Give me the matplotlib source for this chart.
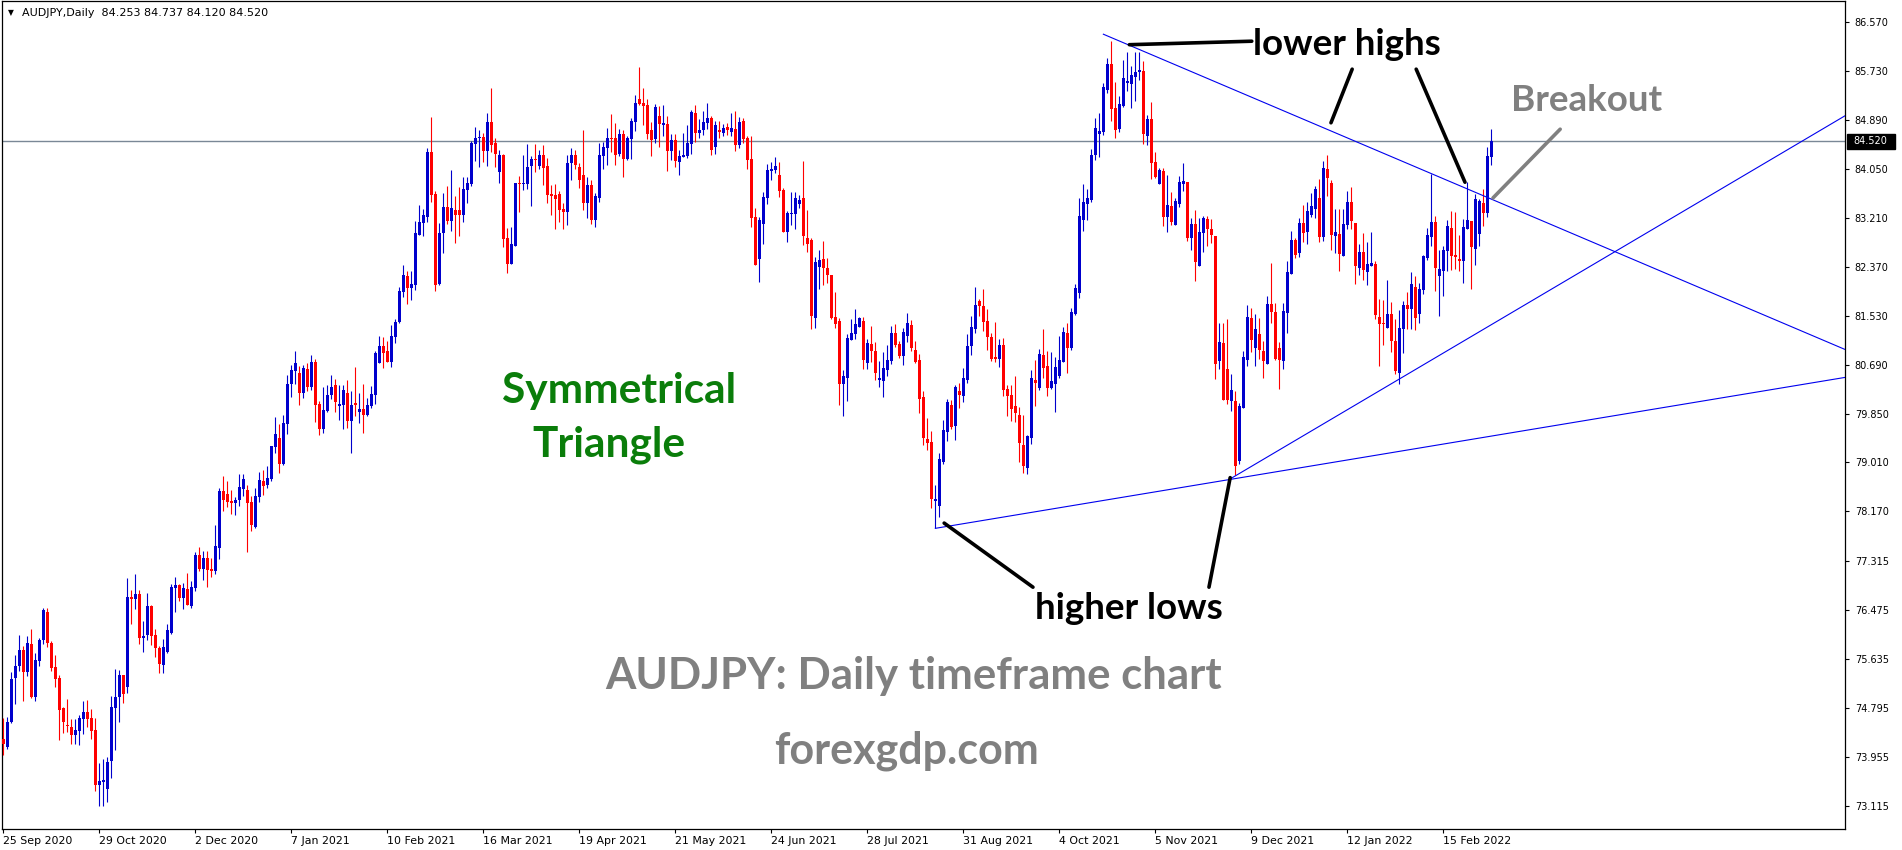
import numpy as np
import matplotlib
matplotlib.use("Agg")
import matplotlib.pyplot as plt
import matplotlib.transforms as mtransforms
from matplotlib.patches import Rectangle

# header of the chart window
symbol = "AUDJPY,Daily"
last_ohlc = [84.253, 84.737, 84.120, 84.520]

# daily candles, 25 Sep 2020 .. early Mar 2022
opens = [
    74.26, 74.13, 74.55, 75.32, 75.52, 75.79, 75.41, 75.90, 74.99, 75.61, 75.97, 76.45, 75.91, 75.50, 75.31,
    74.79, 74.51, 74.47, 74.34, 74.41, 74.61, 74.73, 74.63, 74.42, 73.48, 73.52, 73.40, 73.88, 74.80, 74.98,
    75.36, 75.16, 76.71, 76.66, 76.75, 76.00, 76.05, 76.54, 76.05, 75.83, 75.54, 75.76, 76.09, 76.86, 76.91,
    76.69, 76.84, 76.55, 76.86, 77.42, 77.19, 77.37, 77.19, 77.15, 77.55, 78.52, 78.47, 78.35, 78.32, 78.36,
    78.56, 78.54, 78.33, 77.90, 78.41, 78.69, 78.63, 78.73, 79.28, 79.43, 78.99, 79.67, 80.35, 80.58, 80.55,
    80.21, 80.62, 80.31, 80.74, 80.02, 79.59, 79.90, 80.16, 80.34, 79.98, 79.99, 80.20, 79.73, 80.03, 79.88,
    79.93, 79.83, 79.98, 80.17, 80.72, 81.01, 80.92, 80.74, 81.16, 81.42, 81.94, 82.21, 82.00, 82.06, 82.91,
    83.12, 83.22, 84.34, 83.62, 82.08, 82.94, 83.40, 83.16, 83.34, 83.34, 83.25, 83.69, 83.79, 84.48, 84.58,
    84.60, 84.36, 84.85, 84.49, 83.99, 84.29, 82.86, 82.41, 82.73, 83.81, 83.79, 83.79, 84.10, 84.22, 84.10,
    84.29, 84.10, 83.62, 83.60, 83.62, 83.36, 83.31, 84.15, 84.29, 84.08, 83.94, 83.46, 83.77, 83.17, 83.55,
    84.27, 84.41, 84.58, 84.58, 84.30, 84.65, 84.22, 84.56, 84.85, 85.25, 85.18, 85.15, 84.72, 84.56, 84.96,
    84.80, 84.82, 84.36, 84.55, 84.17, 84.25, 84.27, 84.48, 85.01, 84.67, 84.72, 84.84, 84.92, 84.43, 84.72,
    84.67, 84.77, 84.68, 84.73, 84.46, 84.87, 84.58, 84.22, 83.22, 82.50, 83.10, 83.55, 84.02, 84.03, 83.94,
    83.69, 82.97, 83.28, 83.28, 83.45, 83.55, 82.86, 82.83, 81.49, 82.37, 82.50, 82.35, 82.23, 81.51, 81.44,
    80.36, 80.46, 81.11, 81.22, 81.34, 81.44, 80.72, 81.04, 80.92, 80.43, 80.41, 80.60, 80.75, 81.23, 81.04,
    80.84, 81.18, 81.37, 80.94, 80.77, 80.13, 79.41, 79.36, 78.35, 78.26, 79.02, 79.53, 80.00, 79.64, 80.24,
    80.15, 80.43, 81.01, 81.30, 81.78, 81.70, 81.44, 81.16, 80.82, 80.79, 81.03, 80.27, 80.17, 79.98, 79.83,
    79.31, 78.92, 79.43, 80.43, 80.29, 80.85, 80.67, 80.29, 80.36, 80.50, 80.74, 81.23, 80.98, 81.56, 81.92,
    83.17, 83.45, 83.52, 84.29, 84.65, 84.68, 85.40, 85.85, 85.09, 84.74, 85.13, 85.52, 85.51, 85.63, 85.71,
    85.73, 84.61, 84.91, 84.17, 83.79, 84.01, 83.22, 83.41, 83.09, 83.45, 83.79, 83.82, 82.86, 83.10, 82.38,
    82.95, 83.19, 83.02, 82.90, 80.75, 81.06, 80.62, 80.07, 80.07, 79.04, 79.95, 80.77, 81.49, 80.98, 81.22,
    80.92, 80.70, 81.73, 81.59, 80.98, 80.75, 81.58, 82.25, 82.83, 82.61, 83.12, 82.97, 83.26, 83.36, 83.55,
    82.88, 84.05, 83.81, 82.90, 82.93, 82.55, 83.09, 83.48, 83.12, 82.35, 82.62, 82.28, 82.38, 82.42, 81.51,
    81.40, 81.32, 81.56, 81.10, 80.55, 81.30, 81.71, 81.65, 82.02, 81.56, 81.97, 82.52, 82.88, 83.14, 82.21,
    82.30, 82.64, 83.04, 82.57, 82.50, 82.47, 83.02, 83.16, 82.67, 82.93, 83.46, 83.29, 84.253,
]
highs = [
    74.62, 74.64, 75.41, 75.71, 76.05, 75.86, 76.03, 76.15, 75.74, 76.00, 76.51, 76.51, 75.94, 75.71, 75.36,
    74.82, 74.95, 74.61, 74.61, 74.68, 74.92, 74.94, 74.78, 74.63, 73.85, 73.92, 73.96, 75.01, 75.47, 75.45,
    75.36, 77.03, 76.82, 77.10, 76.82, 76.29, 76.77, 76.57, 76.16, 75.86, 75.98, 76.23, 76.93, 77.05, 76.93,
    76.94, 77.12, 76.98, 77.48, 77.56, 77.49, 77.49, 77.37, 77.94, 78.57, 78.78, 78.69, 78.54, 78.42, 78.81,
    78.81, 78.63, 78.43, 78.57, 78.85, 78.88, 78.95, 79.29, 79.79, 79.67, 79.83, 80.51, 80.69, 80.92, 80.67,
    80.69, 80.72, 80.86, 80.79, 80.07, 80.31, 80.34, 80.51, 80.44, 80.34, 80.34, 80.43, 80.24, 80.65, 80.20,
    80.36, 80.12, 80.32, 80.92, 81.18, 81.17, 81.10, 81.37, 81.47, 82.02, 82.40, 82.30, 82.30, 83.15, 83.43,
    83.36, 84.41, 84.94, 83.67, 83.12, 83.64, 83.76, 84.03, 83.58, 83.74, 83.91, 83.91, 84.53, 84.77, 84.72,
    84.67, 85.01, 85.44, 84.58, 84.37, 84.30, 83.03, 83.05, 83.81, 83.93, 84.29, 84.48, 84.27, 84.48, 84.37,
    84.46, 84.24, 83.77, 83.79, 83.67, 83.46, 84.29, 84.41, 84.37, 84.15, 84.72, 83.91, 83.86, 83.64, 84.49,
    84.51, 84.75, 84.99, 84.84, 84.73, 84.72, 84.61, 84.92, 85.32, 85.80, 85.44, 85.25, 84.85, 85.16, 85.13,
    85.15, 84.96, 84.65, 84.65, 84.37, 84.67, 84.80, 85.06, 85.15, 84.91, 85.04, 85.18, 84.96, 84.87, 84.87,
    84.82, 84.84, 85.01, 85.04, 84.94, 84.92, 84.61, 84.61, 83.38, 83.22, 83.65, 84.13, 84.17, 84.25, 84.17,
    83.72, 83.33, 83.65, 83.65, 83.60, 84.18, 83.34, 82.86, 82.54, 82.66, 82.81, 82.52, 82.23, 81.94, 81.49,
    80.60, 81.22, 81.47, 81.65, 81.51, 81.51, 81.13, 81.35, 81.08, 80.75, 80.91, 81.03, 81.35, 81.39, 81.10,
    81.32, 81.58, 81.46, 81.10, 80.87, 80.24, 79.77, 79.55, 78.63, 79.17, 79.74, 80.10, 80.08, 80.34, 80.38,
    80.63, 81.22, 81.52, 82.02, 81.82, 81.99, 81.65, 81.23, 81.42, 81.13, 81.15, 80.34, 80.34, 80.50, 79.96,
    79.83, 79.48, 80.60, 80.77, 80.96, 81.30, 80.92, 80.91, 80.82, 81.18, 81.34, 81.40, 81.66, 82.07, 83.55,
    83.79, 83.70, 84.39, 84.92, 85.01, 85.52, 85.95, 86.24, 85.54, 85.30, 85.92, 86.06, 85.81, 86.06, 86.06,
    85.90, 84.97, 85.20, 84.34, 84.06, 84.06, 83.94, 83.65, 83.55, 83.93, 84.15, 83.82, 83.21, 83.34, 83.21,
    83.24, 83.24, 83.19, 82.90, 81.40, 81.40, 81.47, 80.53, 80.24, 80.03, 80.92, 81.71, 81.66, 81.56, 81.49,
    81.10, 81.87, 82.43, 81.75, 81.08, 81.75, 82.47, 82.98, 82.86, 83.21, 83.43, 83.48, 83.63, 83.76, 83.88,
    84.19, 84.29, 83.86, 83.36, 83.36, 83.36, 83.67, 83.74, 83.12, 82.76, 82.95, 82.80, 82.97, 82.47, 81.82,
    81.80, 82.14, 81.77, 81.47, 81.63, 81.78, 81.94, 82.28, 82.21, 82.09, 82.57, 83.03, 83.96, 83.24, 82.66,
    82.73, 83.17, 83.33, 83.31, 82.91, 83.19, 83.83, 83.16, 83.62, 83.53, 83.70, 84.42, 84.737,
]
lows = [
    73.99, 74.09, 74.54, 74.86, 75.44, 74.91, 75.35, 74.97, 74.92, 75.51, 75.89, 75.85, 75.43, 75.16, 74.24,
    74.37, 74.39, 74.18, 74.18, 74.16, 74.35, 74.47, 74.27, 73.38, 73.12, 73.12, 73.18, 73.59, 74.07, 74.55,
    74.89, 75.06, 76.23, 76.49, 75.90, 75.75, 75.97, 75.88, 75.68, 75.39, 75.39, 75.74, 76.06, 76.44, 76.64,
    76.49, 76.57, 76.52, 76.81, 77.15, 77.00, 76.88, 77.05, 77.10, 77.36, 78.17, 78.25, 78.13, 78.11, 78.27,
    78.43, 77.48, 77.84, 77.89, 78.34, 78.46, 78.57, 78.69, 79.18, 78.83, 78.97, 79.50, 80.14, 80.36, 79.99,
    80.12, 80.24, 80.26, 79.71, 79.49, 79.51, 79.88, 80.10, 79.88, 79.74, 79.59, 79.61, 79.18, 79.80, 79.68,
    79.52, 79.80, 79.94, 80.02, 80.72, 80.63, 80.74, 80.65, 81.06, 81.40, 81.85, 81.73, 81.80, 81.97, 82.91,
    82.90, 83.14, 83.48, 81.96, 82.06, 82.61, 83.11, 82.99, 82.77, 82.90, 83.13, 83.47, 83.76, 84.18, 84.08,
    84.17, 84.10, 84.34, 84.08, 83.81, 82.70, 82.27, 82.41, 82.73, 83.31, 83.68, 83.70, 83.42, 83.99, 84.05,
    83.77, 83.46, 83.26, 83.02, 83.14, 83.02, 83.09, 83.86, 84.05, 83.72, 83.34, 83.21, 83.10, 83.05, 83.48,
    84.05, 84.12, 84.34, 84.12, 84.27, 83.91, 84.20, 84.22, 84.70, 85.15, 84.80, 84.56, 84.27, 84.49, 84.43,
    84.61, 84.01, 84.20, 84.08, 83.94, 84.25, 84.24, 84.30, 84.51, 84.58, 84.63, 84.73, 84.29, 84.30, 84.58,
    84.61, 84.63, 84.61, 84.36, 84.41, 84.49, 84.05, 83.05, 82.40, 82.11, 82.76, 83.45, 83.86, 83.97, 83.57,
    82.97, 82.80, 83.09, 83.02, 83.38, 82.74, 82.62, 81.30, 81.32, 81.99, 82.06, 82.09, 81.47, 81.32, 80.00,
    79.81, 80.07, 81.11, 81.13, 81.34, 80.62, 80.62, 80.74, 80.43, 80.31, 80.13, 80.50, 80.70, 80.99, 80.80,
    80.68, 81.08, 80.92, 80.72, 79.86, 79.31, 79.23, 78.23, 77.89, 78.08, 78.99, 79.38, 79.59, 79.40, 79.95,
    80.05, 80.37, 80.86, 81.23, 81.52, 81.27, 80.94, 80.75, 80.74, 80.65, 80.15, 79.81, 79.72, 79.71, 79.02,
    78.83, 78.81, 79.33, 79.98, 80.25, 80.46, 80.15, 80.27, 79.88, 80.46, 80.74, 80.55, 80.94, 81.54, 81.83,
    82.98, 83.17, 83.48, 84.20, 84.25, 84.63, 85.35, 84.87, 84.58, 84.68, 85.11, 85.39, 85.09, 85.21, 85.57,
    84.48, 84.46, 83.88, 83.89, 83.79, 83.07, 82.97, 83.09, 83.09, 83.40, 83.67, 82.81, 82.66, 82.13, 82.38,
    82.62, 82.73, 82.78, 80.44, 80.62, 80.08, 80.01, 79.89, 78.80, 78.99, 79.95, 80.67, 80.91, 80.67, 80.79,
    80.46, 80.70, 81.40, 80.77, 80.27, 80.62, 81.23, 82.25, 82.52, 82.54, 82.79, 82.76, 83.22, 83.21, 82.79,
    82.81, 83.58, 82.66, 82.61, 82.30, 82.55, 83.02, 83.02, 82.07, 82.23, 82.14, 82.06, 82.38, 81.47, 80.67,
    81.03, 81.32, 80.91, 80.53, 80.36, 80.89, 81.30, 81.30, 81.28, 81.40, 81.90, 82.49, 82.73, 81.95, 81.52,
    81.87, 82.30, 82.31, 82.33, 82.30, 82.09, 83.02, 81.99, 82.40, 82.73, 83.07, 83.22, 84.120,
]
closes = [
    74.18, 74.55, 75.30, 75.51, 75.79, 75.42, 75.91, 74.98, 75.62, 75.97, 76.48, 75.91, 75.49, 75.30, 74.77,
    74.56, 74.48, 74.34, 74.42, 74.63, 74.73, 74.61, 74.41, 73.48, 73.55, 73.56, 73.87, 74.82, 74.99, 75.36,
    75.03, 76.71, 76.66, 76.75, 76.00, 76.04, 76.54, 76.04, 75.83, 75.55, 75.85, 76.14, 76.88, 76.91, 76.69,
    76.86, 76.57, 76.88, 77.42, 77.19, 77.37, 77.17, 77.15, 77.58, 78.52, 78.37, 78.33, 78.32, 78.37, 78.59,
    78.73, 78.32, 77.93, 78.44, 78.71, 78.61, 78.75, 79.29, 79.50, 78.99, 79.69, 80.36, 80.60, 80.72, 80.21,
    80.63, 80.30, 80.74, 79.99, 79.59, 79.91, 80.17, 80.31, 80.04, 80.02, 80.25, 79.73, 80.00, 80.00, 79.93,
    79.83, 80.00, 80.19, 80.89, 81.01, 80.89, 80.74, 81.18, 81.42, 81.95, 82.23, 82.00, 82.07, 82.95, 83.14,
    83.26, 84.34, 83.60, 82.06, 82.95, 83.40, 83.16, 83.38, 83.25, 83.25, 83.70, 83.81, 84.49, 84.58, 84.60,
    84.36, 84.85, 84.46, 84.30, 84.29, 82.85, 82.41, 82.76, 83.81, 83.79, 83.81, 84.08, 84.22, 84.20, 84.29,
    84.06, 83.60, 83.58, 83.53, 83.34, 83.31, 84.15, 84.29, 84.12, 83.86, 83.46, 83.77, 83.17, 83.58, 84.29,
    84.42, 84.58, 84.56, 84.29, 84.65, 84.22, 84.58, 84.87, 85.18, 85.16, 85.13, 84.65, 84.55, 85.11, 84.82,
    84.84, 84.36, 84.55, 84.18, 84.27, 84.29, 84.49, 85.03, 84.67, 84.72, 84.85, 84.92, 84.37, 84.80, 84.68,
    84.75, 84.72, 84.75, 84.46, 84.85, 84.56, 84.20, 83.21, 82.40, 83.17, 83.57, 84.03, 84.05, 84.10, 83.67,
    82.97, 83.29, 83.29, 83.55, 83.52, 82.90, 82.76, 81.52, 82.45, 82.49, 82.35, 82.23, 81.49, 81.39, 80.36,
    80.50, 81.15, 81.23, 81.39, 81.49, 80.77, 81.06, 80.92, 80.55, 80.46, 80.63, 80.77, 81.23, 81.03, 80.84,
    81.25, 81.40, 80.98, 80.74, 80.10, 79.43, 79.35, 78.38, 78.38, 79.07, 79.57, 80.05, 79.62, 80.31, 80.17,
    80.46, 81.01, 81.34, 81.71, 81.70, 81.42, 81.16, 80.79, 80.79, 81.03, 80.25, 80.15, 79.93, 79.86, 79.35,
    78.95, 79.47, 80.46, 80.38, 80.87, 80.63, 80.29, 80.41, 80.65, 80.77, 81.25, 80.98, 81.59, 82.01, 83.24,
    83.48, 83.55, 84.29, 84.75, 84.70, 85.45, 85.85, 85.08, 84.72, 85.16, 85.61, 85.56, 85.66, 85.71, 85.75,
    84.65, 84.91, 84.15, 83.91, 84.03, 83.22, 83.43, 83.14, 83.50, 83.82, 83.84, 82.86, 83.10, 82.45, 82.97,
    83.21, 83.02, 82.91, 80.70, 81.08, 80.08, 80.08, 80.26, 78.95, 79.98, 80.82, 81.51, 81.11, 81.30, 80.94,
    80.75, 81.73, 81.59, 80.79, 80.77, 81.61, 82.28, 82.83, 82.57, 83.12, 82.95, 83.33, 83.41, 83.70, 82.88,
    84.06, 83.89, 82.91, 82.97, 82.59, 83.10, 83.48, 83.16, 82.38, 82.62, 82.31, 82.42, 82.43, 81.54, 81.39,
    81.39, 81.56, 81.10, 80.58, 81.32, 81.71, 81.65, 82.07, 81.49, 81.99, 82.55, 82.91, 83.14, 82.35, 82.33,
    82.66, 83.07, 82.55, 82.54, 82.47, 83.05, 83.17, 82.71, 83.53, 83.50, 83.29, 84.27, 84.520,
]

# time axis: MT4 labels every 24 bars
date_labels = ["25 Sep 2020", "29 Oct 2020", "2 Dec 2020", "7 Jan 2021", "10 Feb 2021", "16 Mar 2021",
               "19 Apr 2021", "21 May 2021", "24 Jun 2021", "28 Jul 2021", "31 Aug 2021", "4 Oct 2021",
               "5 Nov 2021", "9 Dec 2021", "12 Jan 2022", "15 Feb 2022"]
date_step = 24

price_ticks = [86.570, 85.730, 84.890, 84.050, 83.210, 82.370, 81.530, 80.690, 79.850, 79.010,
               78.170, 77.315, 76.475, 75.635, 74.795, 73.955, 73.115]

# trendlines, (bar, price) anchors
upper_line = [(275, 86.36), (460.4, 80.95)]
lower_line = [(233, 77.88), (460.4, 80.47)]
rising_line = [(307, 78.74), (460.4, 84.96)]

W, H = 1902, 850
BULL = "#0000cc"
BEAR = "#ff0000"
GREY = "#808080"
TXT = ["Lato", "DejaVu Sans"]

fig = plt.figure(figsize=(W / 100, H / 100), dpi=100)
ax = fig.add_axes([2 / W, 21 / H, 1843 / W, 828 / H])

o = np.array(opens)
h = np.array(highs)
l = np.array(lows)
c = np.array(closes)
idx = np.arange(len(c))
cols = np.where(c >= o, BULL, BEAR)

ax.vlines(idx, l, h, colors=cols, linewidth=0.8, zorder=3)
body = np.abs(c - o)
body = np.where(body < 0.015, 0.015, body)
ax.bar(idx, body, bottom=np.minimum(o, c), width=0.75, color=cols, linewidth=0, zorder=4)

# current price line
ax.axhline(last_ohlc[3], color="#7a8896", linewidth=1.0, zorder=2)

for line in (upper_line, lower_line, rising_line):
    xs, ys = zip(*line)
    ax.plot(xs, ys, color="#0000ee", linewidth=0.8, zorder=5)

ax.set_xlim(-0.33, 460.4)
ax.set_ylim(72.72, 86.93)

# axes look of MT4
for s in ax.spines.values():
    s.set_color("black")
    s.set_linewidth(0.9)
ax.yaxis.tick_right()
ax.set_yticks(price_ticks)
ax.set_yticklabels([f"{p:.3f}" for p in price_ticks])
ax.tick_params(axis="y", direction="out", length=3, width=0.8, pad=4, labelsize=7)
ax.set_xticks(np.arange(len(date_labels)) * date_step)
ax.set_xticklabels(date_labels, ha="left")
ax.tick_params(axis="x", direction="out", length=3, width=0.8, pad=2, labelsize=7.9)
for lab in ax.get_xticklabels() + ax.get_yticklabels():
    lab.set_family("DejaVu Sans")

# price tag on the right scale
blend = mtransforms.blended_transform_factory(ax.transAxes, ax.transData)
ax.add_patch(Rectangle((1.001, last_ohlc[3] - 0.13), 0.026, 0.26, transform=blend,
                       facecolor="black", edgecolor="black", clip_on=False, zorder=10))
ax.text(1.014, last_ohlc[3], f"{last_ohlc[3]:.3f}", transform=blend, ha="center", va="center",
        color="white", fontsize=7, family="DejaVu Sans", clip_on=False, zorder=11)

# window header
fig.text(8 / W, 1 - 13 / H, "\u25bc", fontsize=5.5, va="center", ha="left", family="DejaVu Sans")
fig.text(22 / W, 1 - 13 / H, f"{symbol}  " + " ".join(f"{v:.3f}" for v in last_ohlc),
         fontsize=8, va="center", ha="left", family="DejaVu Sans")

# annotations (bar, price)
ax.text(154, 80.24, "Symmetrical", color="#0a7d0a", fontsize=30.5, fontweight="bold", family=TXT,
        ha="center", va="center", zorder=6)
ax.text(151.5, 79.31, "Triangle", color="#0a7d0a", fontsize=30.5, fontweight="bold", family=TXT,
        ha="center", va="center", zorder=6)
ax.text(227.5, 75.35, "AUDJPY: Daily timeframe chart", color=GREY, fontsize=31.5, fontweight="bold",
        family=TXT, ha="center", va="center", zorder=6)
ax.text(225.8, 74.06, "forexgdp.com", color=GREY, fontsize=31, fontweight="bold", family=TXT,
        ha="center", va="center", zorder=6)
ax.text(335.9, 86.18, "lower highs", color="black", fontsize=26.5, fontweight="bold", family=TXT,
        ha="center", va="center", zorder=6)
ax.text(281.4, 76.50, "higher lows", color="black", fontsize=26.5, fontweight="bold", family=TXT,
        ha="center", va="center", zorder=6)
ax.text(395.7, 85.23, "Breakout", color=GREY, fontsize=26.5, fontweight="bold", family=TXT,
        ha="center", va="center", zorder=6)

pointers = [
    ((312.1, 86.24), (281.5, 86.18), "black"),
    ((337.2, 85.76), (331.9, 84.84), "black"),
    ((353.2, 85.76), (365.4, 83.82), "black"),
    ((257.4, 76.87), (235.2, 77.97), "black"),
    ((301.4, 76.87), (306.7, 78.75), "black"),
    ((389.2, 84.73), (372.4, 83.55), GREY),
]
for (x0, y0), (x1, y1), col in pointers:
    ax.plot([x0, x1], [y0, y1], color=col, linewidth=2.6, solid_capstyle="round", zorder=7)

fig.savefig("out.png", dpi=100)
